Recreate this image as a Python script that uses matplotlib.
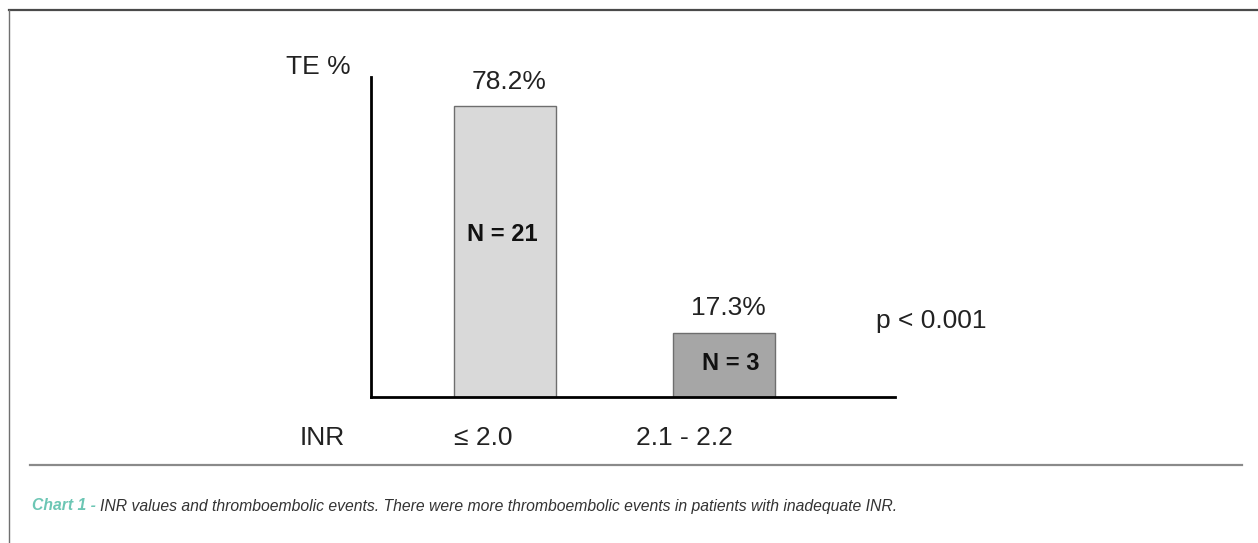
import matplotlib
matplotlib.use("Agg")
import matplotlib.pyplot as plt
from matplotlib.lines import Line2D

# dados
categorias = ["≤ 2.0", "2.1 - 2.2"]
te_pct = [78.2, 17.3]
n_pacientes = [21, 3]
p_valor = "p < 0.001"
legenda = "INR values and thromboembolic events. There were more thromboembolic events in patients with inadequate INR."

narrow = ["Liberation Sans Narrow", "Liberation Sans", "DejaVu Sans"]
plt.rcParams["font.family"] = narrow
fs = 19

fig = plt.figure(figsize=(12.58, 5.43), dpi=100)
ax = fig.add_axes([0.2949, 0.2689, 0.4165, 0.5893])

x = list(range(len(categorias)))
cores = ["#d9d9d9", "#a6a6a6"]
bars = ax.bar(x, te_pct, width=0.466, color=cores, edgecolor="#6e6e6e", linewidth=1.0, zorder=2)

ax.set_xlim(-0.612, 1.781)
ax.set_ylim(0, 86.0)
for s in ["top", "right"]:
    ax.spines[s].set_visible(False)
ax.spines["left"].set_linewidth(2.0)
ax.spines["bottom"].set_linewidth(2.0)
ax.set_xticks([])
ax.set_yticks([])

# rótulos de percentagem
for b, v in zip(bars, te_pct):
    ax.annotate(f"{v}%", (b.get_x() + b.get_width() / 2, v), xytext=(3, 9),
                textcoords="offset points", ha="center", va="bottom", fontsize=fs, color="#222222")

# N dentro das barras
n_y = [43.8, 9.1]
n_dx = [-0.01, 0.03]
for xi, n, yy, dx in zip(x, n_pacientes, n_y, n_dx):
    ax.text(xi + dx, yy, f"N = {n}", ha="center", va="center", fontsize=17, fontweight="bold",
            family=["Liberation Sans", "DejaVu Sans"], color="#111111")

# categorias no eixo x
cat_dx = [-0.10, -0.18]
for xi, c, dx in zip(x, categorias, cat_dx):
    ax.text(xi + dx, -0.128, c, transform=ax.get_xaxis_transform(), ha="center", va="center",
            fontsize=fs, color="#222222")

fig.text(322 / 1258, 1 - 438 / 543, "INR", ha="center", va="center", fontsize=fs, color="#222222")
fig.text(318 / 1258, 1 - 67 / 543, "TE %", ha="center", va="center", fontsize=fs, color="#222222")
fig.text(931 / 1258, 1 - 321 / 543, p_valor, ha="center", va="center", fontsize=fs, color="#222222")

# moldura e linha da legenda
fig.add_artist(Line2D([9 / 1258, 1], [1 - 10 / 543, 1 - 10 / 543], transform=fig.transFigure,
                      color="#4a4a4a", lw=1.6))
fig.add_artist(Line2D([9 / 1258, 9 / 1258], [0, 1 - 10 / 543], transform=fig.transFigure,
                      color="#707070", lw=1.0))
fig.add_artist(Line2D([30 / 1258, 1242 / 1258], [1 - 465 / 543, 1 - 465 / 543], transform=fig.transFigure,
                      color="#8a8a8a", lw=1.6))

t1 = fig.text(32 / 1258, 1 - 506 / 543, "Chart 1 - ", ha="left", va="center", fontsize=11.3,
              style="italic", fontweight="bold", color="#6cc6b4")
fig.canvas.draw()
bb = t1.get_window_extent()
fig.text(bb.x1 / 1258, 1 - 506 / 543, legenda, ha="left", va="center", fontsize=11.3,
         style="italic", color="#333333")

fig.savefig("out.png", dpi=100)
